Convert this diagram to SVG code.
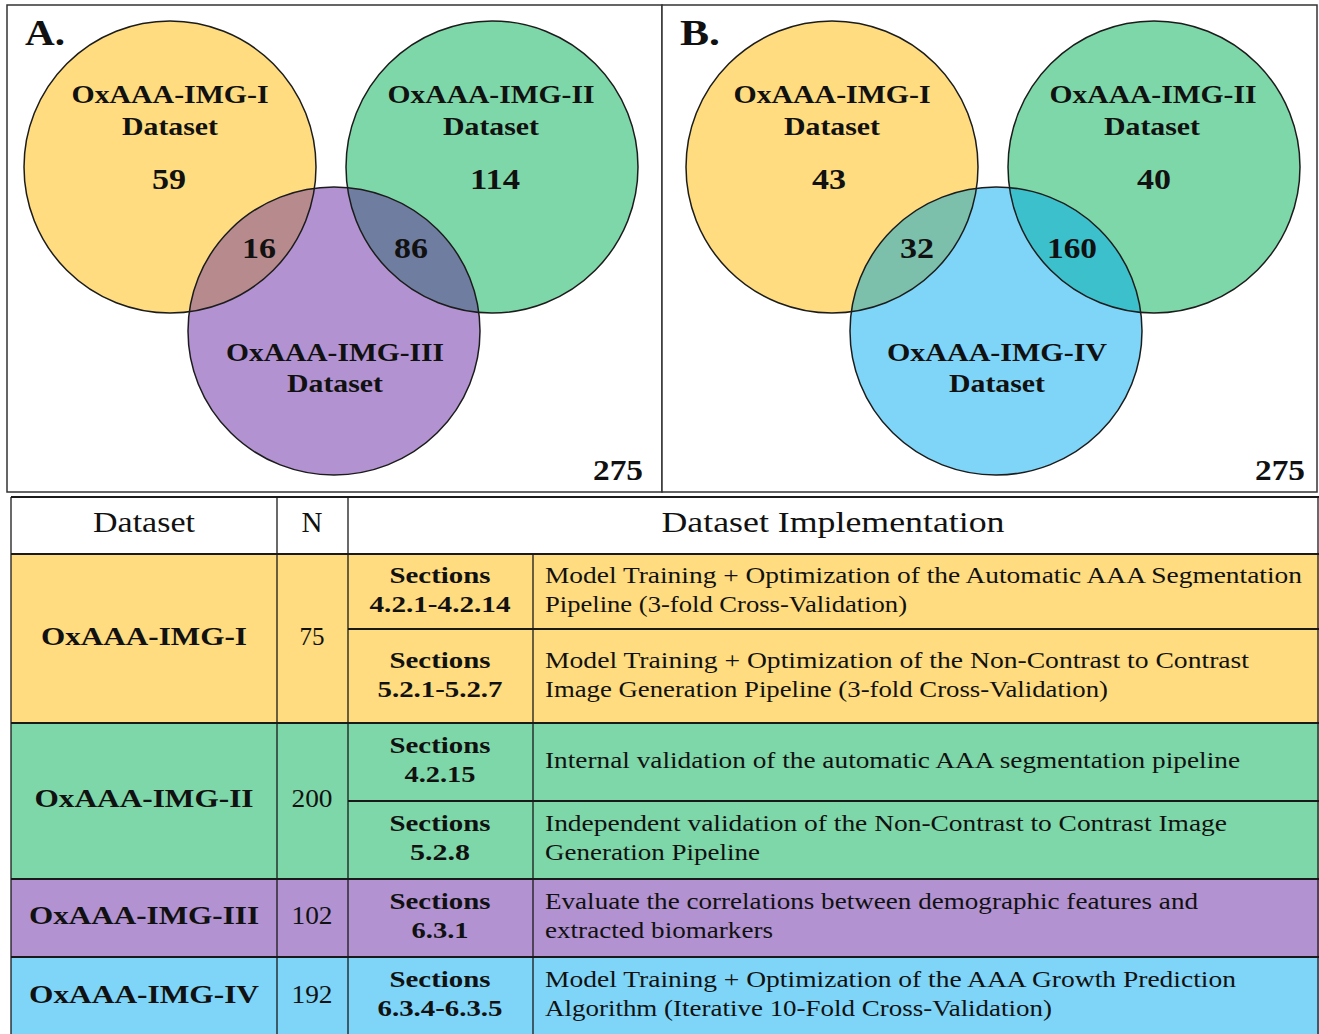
<svg xmlns="http://www.w3.org/2000/svg" width="1319" height="1034" viewBox="0 0 1319 1034">
  <style>
    text { font-family: "Liberation Serif", "Times New Roman", serif; fill: #111; }
    .lbl { font-size: 25px; font-weight: bold; text-anchor: middle; }
    .num { font-size: 29px; font-weight: bold; text-anchor: middle; }
    .tag { font-size: 35px; font-weight: bold; }
    .hd { font-size: 29px; text-anchor: middle; }
    .nm { font-size: 26px; font-weight: bold; text-anchor: middle; }
    .n { font-size: 26px; text-anchor: middle; }
    .sec { font-size: 24px; font-weight: bold; text-anchor: middle; }
    .desc { font-size: 24px; }
    .ring { fill: none; stroke: #1c1c1c; stroke-width: 1.5; }
    .frame { fill: #fff; stroke: #333; stroke-width: 1.5; }
    .hl { stroke: #1a1a1a; stroke-width: 2; }
    .vl { stroke: #1a1a1a; stroke-width: 1.3; }
    .yel { fill: #FEDC7F; }
    .grn { fill: #7ED7A8; }
    .pur { fill: #B292D1; }
    .blu { fill: #7ED5F8; }
  </style>
  <defs>
    <clipPath id="cYA"><ellipse cx="170" cy="167" rx="146" ry="146"/></clipPath>
    <clipPath id="cGA"><ellipse cx="492" cy="167" rx="146" ry="146"/></clipPath>
    <clipPath id="cYB"><ellipse cx="832" cy="167" rx="146" ry="146"/></clipPath>
    <clipPath id="cGB"><ellipse cx="1154" cy="167" rx="146" ry="146"/></clipPath>
  </defs>

  <rect width="1319" height="1034" fill="#fff"/>

  <!-- Panel A: Venn of datasets I, II, III -->
  <g id="panelA">
    <rect class="frame" x="7" y="5" width="655" height="487"/>
    <text class="tag" x="25" y="45" textLength="40" lengthAdjust="spacingAndGlyphs">A.</text>
    <g id="vennA-I"><ellipse class="yel" cx="170" cy="167" rx="146" ry="146"/></g>
    <g id="vennA-II"><ellipse class="grn" cx="492" cy="167" rx="146" ry="146"/></g>
    <g id="vennA-III"><ellipse class="pur" cx="334" cy="331" rx="146" ry="144"/></g>
    <ellipse cx="334" cy="331" rx="146" ry="144" fill="#B78A8D" clip-path="url(#cYA)"/>
    <ellipse cx="334" cy="331" rx="146" ry="144" fill="#6F7EA0" clip-path="url(#cGA)"/>
    <ellipse class="ring" cx="170" cy="167" rx="146" ry="146"/>
    <ellipse class="ring" cx="492" cy="167" rx="146" ry="146"/>
    <ellipse class="ring" cx="334" cy="331" rx="146" ry="144"/>
    <text class="lbl" x="170" y="103" textLength="197" lengthAdjust="spacingAndGlyphs">OxAAA-IMG-I</text>
    <text class="lbl" x="170" y="135" textLength="96" lengthAdjust="spacingAndGlyphs">Dataset</text>
    <text class="num" x="169" y="189" textLength="34" lengthAdjust="spacingAndGlyphs">59</text>
    <text class="lbl" x="491" y="103" textLength="207" lengthAdjust="spacingAndGlyphs">OxAAA-IMG-II</text>
    <text class="lbl" x="491" y="135" textLength="96" lengthAdjust="spacingAndGlyphs">Dataset</text>
    <text class="num" x="495" y="189" textLength="50" lengthAdjust="spacingAndGlyphs">114</text>
    <text class="num" x="259" y="258" textLength="34" lengthAdjust="spacingAndGlyphs">16</text>
    <text class="num" x="411" y="258" textLength="34" lengthAdjust="spacingAndGlyphs">86</text>
    <text class="lbl" x="335" y="361" textLength="218" lengthAdjust="spacingAndGlyphs">OxAAA-IMG-III</text>
    <text class="lbl" x="335" y="392" textLength="96" lengthAdjust="spacingAndGlyphs">Dataset</text>
    <text class="num" x="618" y="480" textLength="50" lengthAdjust="spacingAndGlyphs">275</text>
  </g>

  <!-- Panel B: Venn of datasets I, II, IV -->
  <g id="panelB">
    <rect class="frame" x="662" y="5" width="655" height="487"/>
    <text class="tag" x="680" y="45" textLength="40" lengthAdjust="spacingAndGlyphs">B.</text>
    <g id="vennB-I"><ellipse class="yel" cx="832" cy="167" rx="146" ry="146"/></g>
    <g id="vennB-II"><ellipse class="grn" cx="1154" cy="167" rx="146" ry="146"/></g>
    <g id="vennB-IV"><ellipse class="blu" cx="996" cy="331" rx="146" ry="144"/></g>
    <ellipse cx="996" cy="331" rx="146" ry="144" fill="#7CC0AB" clip-path="url(#cYB)"/>
    <ellipse cx="996" cy="331" rx="146" ry="144" fill="#3CC0CB" clip-path="url(#cGB)"/>
    <ellipse class="ring" cx="832" cy="167" rx="146" ry="146"/>
    <ellipse class="ring" cx="1154" cy="167" rx="146" ry="146"/>
    <ellipse class="ring" cx="996" cy="331" rx="146" ry="144"/>
    <text class="lbl" x="832" y="103" textLength="197" lengthAdjust="spacingAndGlyphs">OxAAA-IMG-I</text>
    <text class="lbl" x="832" y="135" textLength="96" lengthAdjust="spacingAndGlyphs">Dataset</text>
    <text class="num" x="829" y="189" textLength="34" lengthAdjust="spacingAndGlyphs">43</text>
    <text class="lbl" x="1153" y="103" textLength="207" lengthAdjust="spacingAndGlyphs">OxAAA-IMG-II</text>
    <text class="lbl" x="1152" y="135" textLength="96" lengthAdjust="spacingAndGlyphs">Dataset</text>
    <text class="num" x="1154" y="189" textLength="34" lengthAdjust="spacingAndGlyphs">40</text>
    <text class="num" x="917" y="258" textLength="34" lengthAdjust="spacingAndGlyphs">32</text>
    <text class="num" x="1072" y="258" textLength="50" lengthAdjust="spacingAndGlyphs">160</text>
    <text class="lbl" x="997" y="361" textLength="220" lengthAdjust="spacingAndGlyphs">OxAAA-IMG-IV</text>
    <text class="lbl" x="997" y="392" textLength="96" lengthAdjust="spacingAndGlyphs">Dataset</text>
    <text class="num" x="1280" y="480" textLength="50" lengthAdjust="spacingAndGlyphs">275</text>
  </g>

  <!-- Dataset table -->
  <g id="table">
    <g id="row-header">
      <rect x="11" y="497" width="1308" height="57" fill="#fff"/>
      <text class="hd" x="144" y="532" textLength="102" lengthAdjust="spacingAndGlyphs">Dataset</text>
      <text class="hd" x="312" y="532" textLength="21" lengthAdjust="spacingAndGlyphs">N</text>
      <text class="hd" x="833" y="532" textLength="343" lengthAdjust="spacingAndGlyphs">Dataset Implementation</text>
    </g>
    <g id="row-img1">
      <rect class="yel" x="11" y="554" width="1308" height="169"/>
      <text class="nm" x="144" y="645" textLength="206" lengthAdjust="spacingAndGlyphs">OxAAA-IMG-I</text>
      <text class="n" x="312" y="645" textLength="25" lengthAdjust="spacingAndGlyphs">75</text>
      <text class="sec" x="440" y="583" textLength="101" lengthAdjust="spacingAndGlyphs">Sections</text>
      <text class="sec" x="440" y="612" textLength="141" lengthAdjust="spacingAndGlyphs">4.2.1-4.2.14</text>
      <text class="desc" x="545" y="583" textLength="757" lengthAdjust="spacingAndGlyphs">Model Training + Optimization of the Automatic AAA Segmentation</text>
      <text class="desc" x="545" y="612" textLength="362" lengthAdjust="spacingAndGlyphs">Pipeline (3-fold Cross-Validation)</text>
      <text class="sec" x="440" y="668" textLength="101" lengthAdjust="spacingAndGlyphs">Sections</text>
      <text class="sec" x="440" y="697" textLength="125" lengthAdjust="spacingAndGlyphs">5.2.1-5.2.7</text>
      <text class="desc" x="545" y="668" textLength="704" lengthAdjust="spacingAndGlyphs">Model Training + Optimization of the Non-Contrast to Contrast</text>
      <text class="desc" x="545" y="697" textLength="563" lengthAdjust="spacingAndGlyphs">Image Generation Pipeline (3-fold Cross-Validation)</text>
    </g>
    <g id="row-img2">
      <rect class="grn" x="11" y="723" width="1308" height="156"/>
      <text class="nm" x="144" y="807" textLength="219" lengthAdjust="spacingAndGlyphs">OxAAA-IMG-II</text>
      <text class="n" x="312" y="807" textLength="41" lengthAdjust="spacingAndGlyphs">200</text>
      <text class="sec" x="440" y="753" textLength="101" lengthAdjust="spacingAndGlyphs">Sections</text>
      <text class="sec" x="440" y="782" textLength="71" lengthAdjust="spacingAndGlyphs">4.2.15</text>
      <text class="desc" x="545" y="768" textLength="695" lengthAdjust="spacingAndGlyphs">Internal validation of the automatic AAA segmentation pipeline</text>
      <text class="sec" x="440" y="831" textLength="101" lengthAdjust="spacingAndGlyphs">Sections</text>
      <text class="sec" x="440" y="860" textLength="60" lengthAdjust="spacingAndGlyphs">5.2.8</text>
      <text class="desc" x="545" y="831" textLength="682" lengthAdjust="spacingAndGlyphs">Independent validation of the Non-Contrast to Contrast Image</text>
      <text class="desc" x="545" y="860" textLength="215" lengthAdjust="spacingAndGlyphs">Generation Pipeline</text>
    </g>
    <g id="row-img3">
      <rect class="pur" x="11" y="879" width="1308" height="78"/>
      <text class="nm" x="144" y="924" textLength="230" lengthAdjust="spacingAndGlyphs">OxAAA-IMG-III</text>
      <text class="n" x="312" y="924" textLength="41" lengthAdjust="spacingAndGlyphs">102</text>
      <text class="sec" x="440" y="909" textLength="101" lengthAdjust="spacingAndGlyphs">Sections</text>
      <text class="sec" x="440" y="938" textLength="57" lengthAdjust="spacingAndGlyphs">6.3.1</text>
      <text class="desc" x="545" y="909" textLength="653" lengthAdjust="spacingAndGlyphs">Evaluate the correlations between demographic features and</text>
      <text class="desc" x="545" y="938" textLength="228" lengthAdjust="spacingAndGlyphs">extracted biomarkers</text>
    </g>
    <g id="row-img4">
      <rect class="blu" x="11" y="957" width="1308" height="77"/>
      <text class="nm" x="144" y="1003" textLength="230" lengthAdjust="spacingAndGlyphs">OxAAA-IMG-IV</text>
      <text class="n" x="312" y="1003" textLength="41" lengthAdjust="spacingAndGlyphs">192</text>
      <text class="sec" x="440" y="987" textLength="101" lengthAdjust="spacingAndGlyphs">Sections</text>
      <text class="sec" x="440" y="1016" textLength="125" lengthAdjust="spacingAndGlyphs">6.3.4-6.3.5</text>
      <text class="desc" x="545" y="987" textLength="691" lengthAdjust="spacingAndGlyphs">Model Training + Optimization of the AAA Growth Prediction</text>
      <text class="desc" x="545" y="1016" textLength="507" lengthAdjust="spacingAndGlyphs">Algorithm (Iterative 10-Fold Cross-Validation)</text>
    </g>
    <g id="grid">
      <line class="hl" x1="11" y1="497" x2="1319" y2="497"/>
      <line class="hl" x1="11" y1="554" x2="1319" y2="554"/>
      <line class="hl" x1="348" y1="629" x2="1319" y2="629"/>
      <line class="hl" x1="11" y1="723" x2="1319" y2="723"/>
      <line class="hl" x1="348" y1="801" x2="1319" y2="801"/>
      <line class="hl" x1="11" y1="879" x2="1319" y2="879"/>
      <line class="hl" x1="11" y1="957" x2="1319" y2="957"/>
      <line class="vl" x1="11" y1="497" x2="11" y2="1034"/>
      <line class="vl" x1="277" y1="497" x2="277" y2="1034"/>
      <line class="vl" x1="348" y1="497" x2="348" y2="1034"/>
      <line class="vl" x1="533" y1="554" x2="533" y2="1034"/>
      <line class="vl" x1="1318" y1="497" x2="1318" y2="1034"/>
    </g>
  </g>
</svg>
